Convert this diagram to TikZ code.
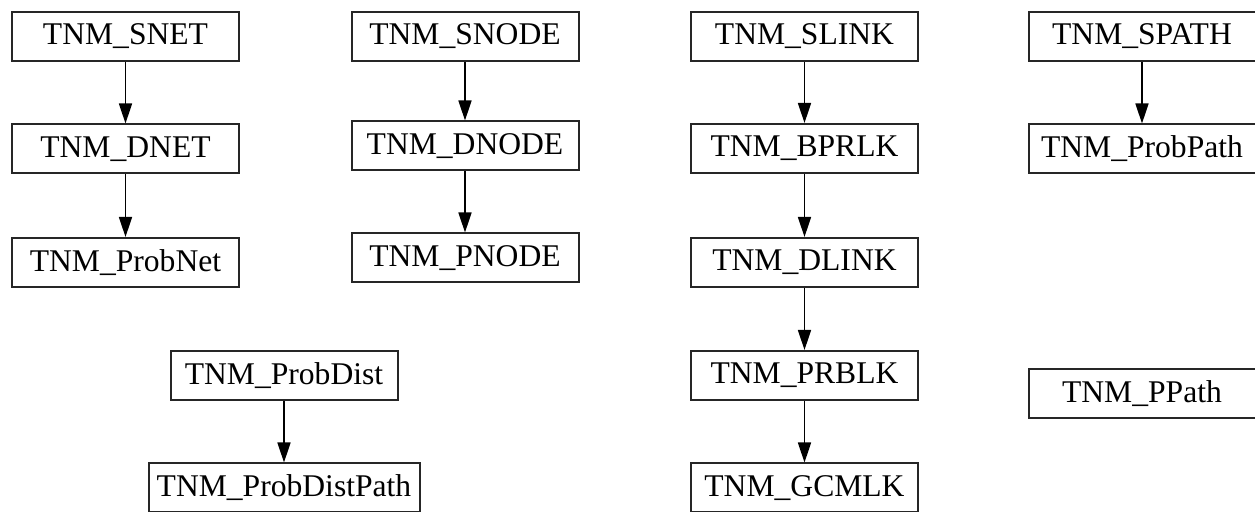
\documentclass[tikz,border=0pt]{standalone}
\usepackage{fontspec}
\setmainfont{Liberation Serif}
\usetikzlibrary{arrows.meta, calc}

\begin{document}
\begin{tikzpicture}[x=0.5pt, y=-0.5pt]
        \useasboundingbox (0, 0) rectangle (1255, 512);

        \coordinate (R) at (0, 0);

        \tikzstyle{b} = [draw=black!85, line width=1pt, inner sep=0pt,
            minimum width=113.5pt, minimum height=24.5pt,
            font=\fontsize{15.8}{18}\selectfont];
        \tikzstyle{a} = [-{Triangle[length=10pt, width=6.5pt]}, line width=0.8pt];

        % net
        \node [b] (snet)    at ($(R) + (125.5,  36.5)$) {TNM\_SNET};
        \node [b] (dnet)    at ($(R) + (125.5, 149  )$) {TNM\_DNET};
        \node [b] (probnet) at ($(R) + (125.5, 262.5)$) {TNM\_ProbNet};

        % node
        \node [b] (snode) at ($(R) + (465,  36.5)$) {TNM\_SNODE};
        \node [b] (dnode) at ($(R) + (465, 146  )$) {TNM\_DNODE};
        \node [b] (pnode) at ($(R) + (465, 258  )$) {TNM\_PNODE};

        % link
        \node [b] (slink) at ($(R) + (804.5,  36.5)$) {TNM\_SLINK};
        \node [b] (bprlk) at ($(R) + (804.5, 148.5)$) {TNM\_BPRLK};
        \node [b] (dlink) at ($(R) + (804.5, 262.5)$) {TNM\_DLINK};
        \node [b] (prblk) at ($(R) + (804.5, 375.5)$) {TNM\_PRBLK};
        \node [b] (gcmlk) at ($(R) + (804.5, 488  )$) {TNM\_GCMLK};

        % path
        \node [b] (spath)    at ($(R) + (1142,  36.5)$) {TNM\_SPATH};
        \node [b] (probpath) at ($(R) + (1142, 149  )$) {TNM\_ProbPath};
        \node [b] (ppath)    at ($(R) + (1142, 394  )$) {TNM\_PPath};

        % dist
        \node [b] (probdist)     at ($(R) + (284, 376)$) {TNM\_ProbDist};
        \node [b, minimum width=135.5pt] (probdistpath) at ($(R) + (284, 488)$) {TNM\_ProbDistPath};

        \foreach \s/\t in {snet/dnet, dnet/probnet, snode/dnode, dnode/pnode,
                slink/bprlk, bprlk/dlink, dlink/prblk, prblk/gcmlk,
                spath/probpath, probdist/probdistpath}{
            \draw [a] (\s) -- (\t);
        }
    \end{tikzpicture}
\end{document}
